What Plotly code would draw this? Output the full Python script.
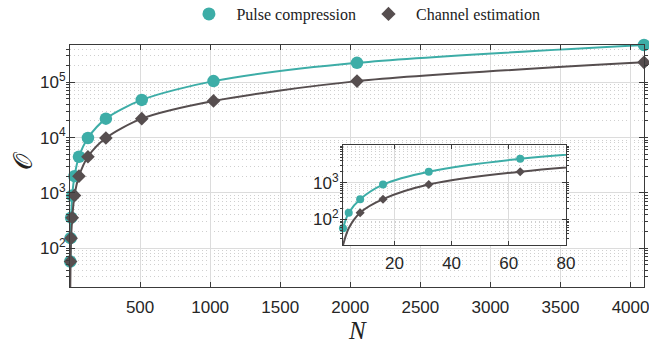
import plotly.graph_objects as go

# ---- data ----
N = [2, 4, 8, 16, 32, 64, 128, 256, 512, 1024, 2048, 4096]
pulse = [57, 151, 355, 890, 2000, 4500, 9800, 22000, 48000, 105000, 225000, 473000]
channel = [19.7, 57, 151, 355, 890, 2000, 4500, 9800, 22000, 46000, 105000, 230000]

inset_N_pulse = [2, 4, 8, 16, 32, 64]
inset_pulse = [57, 151, 355, 890, 2000, 4500]
inset_N_channel = [8, 16, 32, 64]
inset_channel = [151, 355, 890, 2000]

main_xticks = [500, 1000, 1500, 2000, 2500, 3000, 3500, 4000]
main_yticks = [100, 1000, 10000, 100000]
main_yticktext = ["10<sup>2</sup>", "10<sup>3</sup>", "10<sup>4</sup>", "10<sup>5</sup>"]
inset_xticks = [20, 40, 60, 80]
inset_yticks = [100, 1000]
inset_yticktext = ["10<sup>2</sup>", "10<sup>3</sup>"]

TEAL = "#3DADA7"
DARK = "#564E4F"
AXC = "#3a3a3a"
GRID = "#dcdcdc"
MINOR = "#cfcfcf"
TICKFONT = dict(family="Liberation Sans, Arial, sans-serif", size=17, color="#262626")
SERIF = "Liberation Serif, Times New Roman, serif"

fig = go.Figure()

line_kw = dict(width=2, shape="spline", smoothing=0.8)
# main plot lines
fig.add_trace(go.Scatter(x=N, y=pulse, mode="lines", line=dict(color=TEAL, **line_kw),
                         showlegend=False, xaxis="x", yaxis="y"))
fig.add_trace(go.Scatter(x=N, y=channel, mode="lines", line=dict(color=DARK, **line_kw),
                         showlegend=False, xaxis="x", yaxis="y"))
# main plot markers
fig.add_trace(go.Scatter(x=N, y=pulse, mode="markers", marker=dict(symbol="circle", size=12.5, color=TEAL),
                         showlegend=False, cliponaxis=False, xaxis="x", yaxis="y"))
fig.add_trace(go.Scatter(x=N, y=channel, mode="markers", marker=dict(symbol="diamond", size=10.5, color=DARK),
                         showlegend=False, cliponaxis=False, xaxis="x", yaxis="y"))

# inset lines
fig.add_trace(go.Scatter(x=N, y=pulse, mode="lines", line=dict(color=TEAL, **line_kw),
                         showlegend=False, xaxis="x2", yaxis="y2"))
fig.add_trace(go.Scatter(x=N, y=channel, mode="lines", line=dict(color=DARK, **line_kw),
                         showlegend=False, xaxis="x2", yaxis="y2"))
fig.add_trace(go.Scatter(x=inset_N_pulse, y=inset_pulse, mode="markers", marker=dict(symbol="circle", size=8, color=TEAL),
                         showlegend=False, cliponaxis=False, xaxis="x2", yaxis="y2"))
fig.add_trace(go.Scatter(x=inset_N_channel, y=inset_channel, mode="markers",
                         marker=dict(symbol="diamond", size=7, color=DARK),
                         showlegend=False, cliponaxis=False, xaxis="x2", yaxis="y2"))

# legend entries
fig.add_trace(go.Scatter(x=[None], y=[None], mode="markers", name="Pulse compression",
                         marker=dict(symbol="circle", size=13, color=TEAL)))
fig.add_trace(go.Scatter(x=[None], y=[None], mode="markers", name="Channel estimation",
                         marker=dict(symbol="diamond", size=11, color=DARK)))

common_axis = dict(showline=True, linecolor=AXC, linewidth=1, mirror="allticks", ticks="inside",
                   tickcolor=AXC, tickfont=TICKFONT, zeroline=False, automargin=False,
                   ticklabeloverflow="allow")
minor_grid = dict(dtick="D1", showgrid=True, gridcolor=MINOR, griddash="1px,3px", tickcolor=AXC)

fig.update_layout(
    width=649, height=343,
    margin=dict(l=70, r=5, t=45, b=56, autoexpand=False),
    paper_bgcolor="white", plot_bgcolor="white",
    showlegend=True,
    legend=dict(orientation="h", xref="container", yref="container", x=0.56, xanchor="center",
                y=0.959, yanchor="middle", itemwidth=45, entrywidth=0,
                font=dict(family=SERIF, size=16, color="#222"),
                bgcolor="rgba(0,0,0,0)"),
    xaxis=dict(range=[0, 4096], tickvals=main_xticks, showgrid=True, gridcolor=GRID, gridwidth=1,
               ticklen=5, ticklabelstandoff=5, **common_axis),
    yaxis=dict(type="log", range=[1.295, 5.675], tickvals=main_yticks, ticktext=main_yticktext,
               showgrid=True, gridcolor=GRID, gridwidth=1, ticklen=5,
               minor=dict(ticklen=3, **minor_grid), **common_axis),
    xaxis2=dict(domain=[0.4756, 0.864], anchor="y2", range=[2, 80], tickvals=inset_xticks,
                showgrid=True, gridcolor=GRID, ticklen=4, ticklabelstandoff=3, **common_axis),
    yaxis2=dict(domain=[0.1736, 0.5868], anchor="x2", type="log", range=[1.30, 4.03], tickvals=inset_yticks,
                ticktext=inset_yticktext, showgrid=True, gridcolor=GRID, ticklen=4,
                minor=dict(ticklen=2, **minor_grid), **common_axis),
    annotations=[
        dict(text="<i>N</i>", xref="paper", yref="paper", x=0.5, y=-0.18, yanchor="middle", showarrow=False,
             font=dict(family=SERIF, size=25, color="#222")),
        dict(text="𝒪", xref="paper", yref="paper", x=-0.082, y=0.52, xanchor="center", yanchor="middle",
             showarrow=False, textangle=-90,
             font=dict(family="DejaVu Serif, Liberation Serif, serif", size=26, color="#222")),
    ],
)

fig.write_html("out.html")
